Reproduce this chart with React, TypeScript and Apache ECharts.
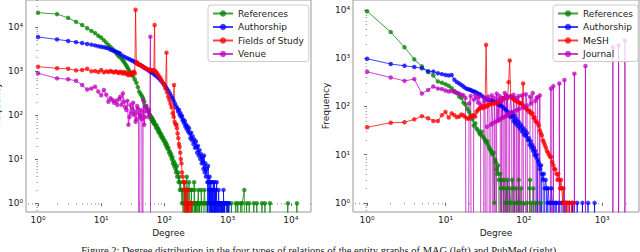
import { useEffect, useRef } from "react";
import * as echarts from "echarts";

// ---- MAG (left) : [degree, frequency] ----
const magReferences: [number, number][] = [
  [1,21000],[2,19500],[3,16000],[4,13000],[5,11000],[6,9300],[7,8100],[8,7200],[9,6300],[10,5700],
  [11,5000],[12,4400],[13,3900],[14,3500],[15,3200],[16,2900],[17,2600],[18,2350],[19,2150],[20,2100],
  [21,1900],[22,1750],[23,1600],[24,1450],[25,1320],[26,1200],[27,1080],[28,980],[29,900],[30,830],
  [32,760],[34,640],[36,540],[38,430],[40,340],[42,300],[44,270],[46,240],[48,200],[50,160],[53,140],
  [56,120],[59,100],[61,90],[62,80],[63,88],[64,75],[65,82],[66,70],[67,74],[68,66],[69,70],[70,62],
  [72,60],[74,52],[75,58],[77,48],[79,50],[80,42],[82,45],[84,38],[86,40],[88,33],[90,36],[92,30],
  [95,31],[97,26],[100,27],[103,22],[105,24],[108,19],[110,21],[113,17],[116,18],[119,14],[122,15],
  [125,12],[128,13],[131,10],[134,11],[137,8],[140,9],[143,7],[146,8],[150,6],[153,5],[157,7],[160,4],
  [164,5],[168,3],[172,4],[176,2],[180,3],[185,2],[190,1],[195,2],[200,0],[202,1],[205,3],[207,2],
  [210,2],[212,1],[215,0],[218,2],[220,1],[223,0],[226,4],[229,2],[232,1],[235,1],[238,0],[242,1],
  [245,3],[248,2],[252,1],[256,0],[260,0],[264,1],[268,2],[272,2],[276,0],[280,1],[285,1],[290,0],
  [295,3],[300,2],[305,0],[310,1],[315,1],[320,0],[325,1],[330,0],[337,1],[345,2],[352,0],[360,1],
  [367,1],[375,0],[382,2],[390,1],[398,0],[410,0],[420,1],[430,2],[440,1],[450,0],[460,0],[470,1],
  [485,1],[500,0],[515,0],[530,1],[545,1],[560,1],[580,0],[600,0],[620,1],[640,1],[660,1],[680,0],
  [700,0],[720,1],[745,0],[770,0],[795,1],[820,1],[850,0],[880,1],[910,0],[940,0],[1000,1],[1040,0],
  [1080,0],[1150,1],[1200,0],[1250,0],[1350,1],[1400,0],[1450,1],[1550,0],[1620,1],[1660,0],[1700,1],
  [1840,2],[1900,0],[2000,1],[2100,0],[2200,1],[2400,0],[2600,1],[2750,0],[2900,1],[3200,0],[3500,1],
  [3700,0],[3900,1],[4300,0],[4700,1],[4750,0],[9000,1],[9050,0],[12500,1],[12600,0],
];
const magAuthorship: [number, number][] = [
  [1,5900],[2,5200],[3,4800],[4,4500],[5,4300],[6,4100],[7,3950],[8,3800],[9,3650],[10,3550],
  [11,3450],[12,3350],[13,3250],[14,3050],[15,2950],[16,2850],[17,2750],[18,2650],[19,2550],[20,2450],
  [22,2200],[24,2050],[26,1950],[28,1850],[30,1750],[32,1680],[34,1600],[36,1520],[38,1460],[41,1380],
  [44,1300],[47,1220],[50,1150],[54,1070],[58,990],[62,930],[66,890],[70,820],[75,760],[80,700],
  [85,640],[90,580],[95,530],[100,480],[105,430],[110,390],[116,350],[122,310],[128,270],[134,240],
  [140,210],[147,180],[155,155],[160,140],[165,120],[170,130],[175,100],[180,110],[185,90],[190,95],
  [195,75],[200,78],[205,65],[210,72],[215,55],[220,60],[226,48],[232,55],[238,42],[245,50],[251,38],
  [258,30],[265,40],[272,27],[280,33],[288,22],[296,28],[305,18],[315,25],[324,19],[330,14],[340,20],
  [350,12],[360,16],[370,10],[380,13],[390,8],[400,11],[407,9],[415,6],[425,12],[435,5],[445,8],
  [455,4],[468,6],[480,3],[485,0],[490,7],[500,3],[505,1],[510,2],[515,0],[520,4],[525,1],[530,2],
  [535,0],[540,1],[545,3],[550,3],[555,0],[560,2],[565,1],[570,0],[575,2],[580,1],[585,0],[590,2],
  [595,3],[600,1],[605,0],[610,0],[615,1],[620,3],[625,0],[630,1],[635,2],[640,0],[645,1],[650,2],
  [658,0],[665,1],[672,3],[680,0],[690,1],[700,1],[710,0],[720,2],[730,1],[740,0],[750,1],[760,1],
  [770,0],[780,1],[790,0],[800,1],[815,0],[830,1],[845,0],[860,2],[870,1],[880,0],[895,1],[910,1],
  [925,0],[940,0],[955,1],[970,1],[985,0],[1000,0],[1020,1],[1035,0],[1050,1],[1060,0],
];
const magFields: [number, number][] = [
  [1,1250],[2,1150],[3,1120],[4,1030],[5,1050],[6,1120],[7,980],[8,1000],[9,950],[10,1050],
  [11,930],[12,980],[13,950],[14,1000],[15,960],[16,920],[17,980],[18,940],[19,900],[20,960],
  [21,920],[22,870],[23,950],[24,900],[25,850],[26,880],[27,800],[28,850],[29,900],[30,820],
  [31,880],[32,920],[33,960],[34,880],[35,24500],[36,1600],[37,1500],[38,1450],[39,1400],[40,1380],
  [42,1350],[44,1300],[46,1250],[48,1200],[50,1150],[53,1100],[56,1080],[59,1050],[62,1050],[65,1000],
  [68,1050],[70,11000],[71,1000],[73,950],[76,900],[79,820],[83,750],[87,680],[91,600],[95,530],
  [100,480],[104,400],[108,2600],[110,330],[115,260],[120,220],[125,180],[130,150],[135,110],[140,90],
  [142,480],[145,70],[150,62],[155,60],[158,50],[162,38],[166,30],[170,22],[174,19],[178,14],[182,10],
  [186,8],[190,5],[195,4],[200,3],[205,2],[208,0],[210,3],[213,1],[215,1],[218,0],[220,2],[225,0],
  [228,1],[230,1],[233,0],[235,2],[240,0],[242,1],[245,1],[250,0],[255,1],[258,0],[262,0],[266,1],
  [270,1],[275,0],
];
const magVenue: [number, number][] = [
  [1,890],[2,680],[3,650],[4,600],[5,480],[6,380],[7,400],[8,440],[9,340],[10,280],[11,370],[12,290],
  [13,200],[14,240],[15,220],[16,190],[17,210],[18,170],[19,230],[20,260],[21,170],[22,310],[23,200],
  [24,150],[25,130],[26,210],[27,60],[28,90],[29,170],[30,110],[31,140],[32,190],[33,100],[34,120],
  [35,70],[36,80],[37,160],[38,140],[39,110],[40,0],[41,90],[42,130],[43,100],[44,80],[45,0],[46,220],
  [47,120],[48,60],[49,90],[50,150],[52,160],[54,120],[56,90],[57,130],[59,100],[60,6000],[61,0],
];

// ---- PubMed (right) ----
const pmReferences: [number, number][] = [
  [1,9500],[2,3500],[3,1700],[4,950],[5,680],[6,520],[7,440],[8,330],[9,310],[10,290],[11,270],[12,240],
  [13,210],[14,190],[15,160],[16,150],[17,120],[18,110],[19,90],[20,78],[21,65],[22,55],[23,40],[24,45],
  [25,35],[26,32],[27,28],[28,26],[29,30],[30,24],[31,22],[32,20],[33,18],[34,19],[35,16],[36,14],
  [37,13],[38,12],[39,11],[40,10],[41,11],[42,1],[43,8],[44,7],[45,5],[46,4],[47,6],[48,3],[49,0],
  [50,4],[51,2],[52,3],[53,0],[55,2],[56,3],[57,0],[58,1],[60,2],[61,0],[62,3],[63,1],[64,0],[66,2],
  [68,1],[69,0],[71,3],[73,2],[74,0],[76,1],[78,0],[80,2],[82,1],[83,0],[86,3],[88,1],[89,0],[92,2],
  [95,0],[98,1],[102,0],[110,1],[112,0],[118,2],[120,3],[121,0],[125,1],[127,0],[132,2],[134,0],
  [140,1],[142,0],[150,1],[152,0],[165,1],[167,0],
];
const pmAuthorship: [number, number][] = [
  [1,980],[2,760],[3,700],[4,660],[5,620],[6,540],[7,530],[8,490],[9,470],[10,450],[11,440],[12,450],
  [13,360],[14,320],[15,300],[16,280],[17,260],[18,240],[19,230],[20,225],[21,220],[22,210],[23,205],
  [24,200],[25,190],[26,185],[27,180],[28,175],[30,160],[32,148],[34,140],[36,138],[38,135],[40,130],
  [42,125],[44,120],[46,115],[48,110],[50,105],[53,100],[56,92],[59,85],[62,78],[65,70],[68,60],[70,75],
  [72,62],[74,50],[76,65],[78,45],[80,55],[83,40],[86,48],[89,35],[92,42],[95,30],[98,36],[101,26],
  [104,32],[107,24],[110,28],[113,20],[116,22],[119,16],[122,19],[125,14],[128,16],[131,12],[134,14],
  [137,10],[140,12],[143,9],[146,10],[148,0],[150,8],[154,7],[158,6],[162,5],[166,6],[168,0],[170,4],
  [175,3],[180,4],[183,0],[185,2],[190,3],[195,2],[198,0],[200,1],[205,2],[210,1],[215,0],[220,1],
  [225,2],[230,1],[236,0],[242,1],[248,0],[255,1],[262,1],[270,0],[280,1],[290,0],[300,1],[315,1],
  [330,0],[345,1],[360,0],[380,1],[400,0],[420,1],[450,0],[480,1],[520,0],[560,1],[580,0],[660,1],
  [670,0],[800,1],[810,0],
];
const pmMesh: [number, number][] = [
  [1,37],[2,46],[3,47],[4,54],[5,63],[6,57],[7,50],[8,50],[9,66],[10,77],[11,59],[12,72],[13,66],
  [14,60],[15,62],[16,68],[17,65],[18,60],[19,56],[20,56],[21,60],[22,64],[23,66],[24,62],[25,78],
  [26,85],[27,90],[28,95],[29,100],[30,92],[31,105],[32,98],[33,1900],[34,100],[35,108],[36,110],
  [38,112],[40,115],[42,115],[44,120],[46,118],[48,125],[50,130],[52,140],[54,150],[56,145],[58,155],
  [60,160],[62,155],[64,320],[66,900],[68,165],[70,155],[72,150],[74,140],[76,145],[78,135],[80,130],
  [83,125],[86,120],[89,118],[92,115],[96,110],[98,300],[100,100],[104,95],[108,90],[112,85],[116,78],
  [120,80],[125,70],[129,72],[133,58],[137,60],[141,50],[145,48],[150,45],[155,40],[160,32],[165,28],
  [170,25],[175,20],[180,18],[185,16],[191,14],[197,12],[203,11],[210,10],[216,9],[223,9],[230,7],
  [238,6],[245,5],[252,5],[260,4],[268,3],[275,4],[283,3],[290,2],[298,3],[305,2],[314,1],[320,2],
  [326,0],[330,1],[335,1],[340,0],[350,1],[360,1],[370,0],[380,1],[390,0],[405,1],[420,0],[440,1],[450,0],
];
const pmJournal: [number, number][] = [
  [1,525],[2,400],[3,340],[4,370],[5,185],[6,220],[7,260],[8,235],[9,230],[10,215],[11,205],[12,210],
  [13,200],[14,190],[15,185],[16,175],[17,170],[18,150],[19,0],[20,115],[21,165],[22,0],[23,140],
  [24,175],[25,150],[26,120],[27,160],[28,110],[29,0],[30,0],[31,130],[32,150],[33,0],[34,38],[35,160],
  [36,140],[37,0],[38,42],[39,170],[40,45],[41,0],[42,150],[43,48],[44,0],[45,185],[46,50],[47,140],
  [48,52],[49,165],[50,55],[51,0],[52,130],[53,58],[54,150],[55,0],[56,60],[57,190],[58,62],[59,0],
  [60,170],[61,65],[62,150],[63,68],[64,0],[66,72],[68,160],[70,75],[72,0],[74,175],[76,80],[78,0],
  [80,150],[82,85],[83,0],[86,165],[88,90],[92,0],[95,170],[98,95],[103,0],[106,180],[110,105],[117,0],
  [120,160],[124,115],[130,190],[136,0],[140,130],[146,150],[150,155],[157,0],[160,170],[161,0],
  [221,0],[222,236],[223,0],[237,0],[238,265],[239,0],[283,0],[284,300],[285,0],[329,0],[330,355],
  [331,0],[441,0],[442,480],[443,0],[611,0],[612,690],[613,0],[1369,0],[1370,1700],[1371,0],
  [1619,0],[1620,1870],[1621,0],[1949,0],[1950,2340],[1951,0],
];

const leftNames = ["References", "Authorship", "Fields of Study", "Venue"];
const rightNames = ["References", "Authorship", "MeSH", "Journal"];
const colors = ["#008000", "#0000ff", "#ff0000", "#bf00bf"];
const caption =
  "Figure 2: Degree distribution in the four types of relations of the entity graphs of MAG (left) and PubMed (right).";

const FONT = "DejaVu Sans";
const SUP = ["\u2070", "\u00b9", "\u00b2", "\u00b3", "\u2074", "\u2075"];

const toPoints = (pairs: [number, number][]) =>
  pairs.map(([d, f]) => [Math.log10(d), f > 0 ? Math.log10(f) : -10]);

const majors = (min: number, max: number) => {
  const out: number[] = [];
  for (let n = Math.ceil(min); n <= Math.floor(max); n++) out.push(n);
  return out;
};
const minors = (min: number, max: number) => {
  const out: number[] = [];
  for (let n = Math.floor(min); n <= Math.ceil(max); n++)
    for (let k = 2; k <= 9; k++) {
      const v = n + Math.log10(k);
      if (v > min && v < max) out.push(v);
    }
  return out;
};

const labelStyle = { fontFamily: FONT, fontSize: 9, color: "#222" };

function axisPair(kind: "x" | "y", gridIndex: number, min: number, max: number, name: string, gap: number) {
  const pos = kind === "x" ? "bottom" : "left";
  return [
    {
      type: "value", gridIndex, min, max, position: pos,
      name, nameLocation: "middle", nameGap: gap,
      nameTextStyle: { ...labelStyle },
      axisLine: { show: false },
      axisTick: { show: true, customValues: majors(min, max), length: 3, lineStyle: { color: "#444", width: 0.8 } },
      axisLabel: {
        customValues: majors(min, max),
        formatter: (v: number) => "10" + SUP[Math.round(v)],
        ...labelStyle, margin: 3,
      },
      splitLine: { show: false },
    },
    {
      type: "value", gridIndex, min, max, position: pos, offset: 0,
      axisLine: { show: false },
      axisLabel: { show: false },
      axisTick: { show: true, customValues: minors(min, max), length: 1.5, lineStyle: { color: "#666", width: 0.6 } },
      splitLine: { show: false },
    },
  ];
}

function mkSeries(name: string, data: [number, number][], color: string, idx: number) {
  return {
    type: "line", name, data: toPoints(data),
    xAxisIndex: idx * 2, yAxisIndex: idx * 2,
    symbol: "circle", symbolSize: 4.5, clip: true,
    lineStyle: { color, width: 1, opacity: 0.75 },
    itemStyle: { color, opacity: 0.75 },
    emphasis: { disabled: true },
  };
}

function legendAt(left: number, names: string[]) {
  return {
    orient: "vertical", left, top: 5, data: names,
    itemWidth: 20, itemHeight: 8, itemGap: 4.5,
    padding: [4, 5, 3, 4],
    backgroundColor: "rgba(255,255,255,0.8)", borderColor: "#ccc", borderWidth: 1, borderRadius: 3,
    textStyle: { ...labelStyle, fontSize: 9 },
    selectedMode: false,
  };
}

export default function App() {
  const ref = useRef<HTMLDivElement>(null);
  useEffect(() => {
    if (!ref.current) return;
    const chart = echarts.init(ref.current, null, { renderer: "svg" });
    const L = { x: [-0.19, 4.32], y: [-0.2, 4.61] };
    const R = { x: [-0.18, 3.47], y: [-0.19, 4.21] };
    const [lx0, lx1] = axisPair("x", 0, L.x[0], L.x[1], "Degree", 16);
    const [ly0, ly1] = axisPair("y", 0, L.y[0], L.y[1], "Frequency", 25);
    const [rx0, rx1] = axisPair("x", 1, R.x[0], R.x[1], "Degree", 16);
    const [ry0, ry1] = axisPair("y", 1, R.y[0], R.y[1], "Frequency", 23);
    const gridBase = {
      top: 0, height: 212, show: true, borderColor: "#999", borderWidth: 1,
      backgroundColor: "transparent", containLabel: false, outerBoundsMode: "none",
    };
    chart.setOption({
      animation: false,
      grid: [
        { ...gridBase, left: 26, width: 285 },
        { ...gridBase, left: 353, width: 286 },
      ],
      xAxis: [lx0, lx1, rx0, rx1],
      yAxis: [ly0, ly1, ry0, ry1],
      legend: [legendAt(208, leftNames), legendAt(553, rightNames)],
      series: [
        mkSeries(leftNames[0], magReferences, colors[0], 0),
        mkSeries(leftNames[1], magAuthorship, colors[1], 0),
        mkSeries(leftNames[2], magFields, colors[2], 0),
        mkSeries(leftNames[3], magVenue, colors[3], 0),
        mkSeries(rightNames[0], pmReferences, colors[0], 1),
        mkSeries(rightNames[1], pmAuthorship, colors[1], 1),
        mkSeries(rightNames[2], pmMesh, colors[2], 1),
        mkSeries(rightNames[3], pmJournal, colors[3], 1),
      ],
      graphic: [
        {
          type: "text", left: "center", top: 245,
          style: { text: caption, font: '10.5px "Liberation Serif"', fill: "#222" },
        },
      ],
    });
    return () => chart.dispose();
  }, []);
  return (
    <div
      ref={ref}
      style={{ position: "absolute", left: 0, top: 0, width: 640, height: 252, overflow: "hidden", background: "#fff" }}
    />
  );
}
